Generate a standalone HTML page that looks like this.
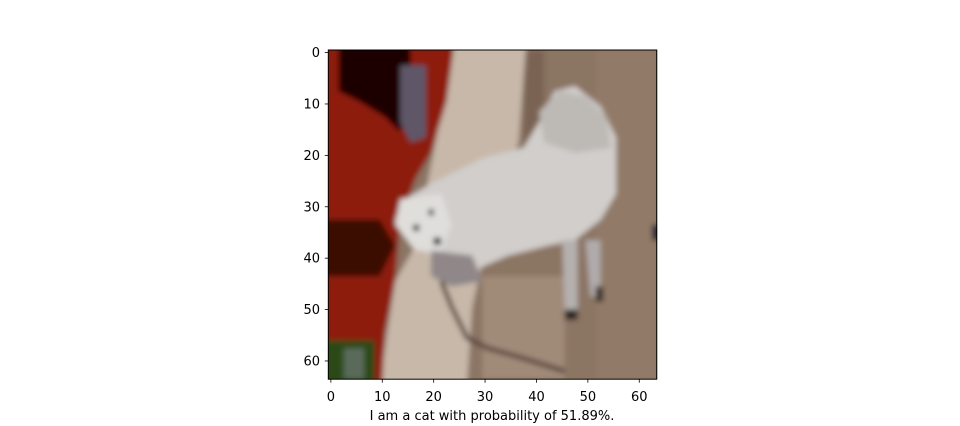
<!DOCTYPE html>
<html><head><meta charset="utf-8"><style>
html,body{margin:0;padding:0;background:#fff;}
svg{display:block;font-family:"DejaVu Sans","Liberation Sans",sans-serif;}
</style></head><body>
<svg width="960" height="426" viewBox="0 0 960 426">
<defs>
<filter id="blur" x="-5%" y="-5%" width="110%" height="110%"><feGaussianBlur stdDeviation="0.5"/></filter>
<clipPath id="clip"><rect x="0" y="0" width="64" height="64"/></clipPath>
</defs>
<g transform="translate(328.3,50) scale(5.14)" clip-path="url(#clip)">
<g filter="url(#blur)">
<rect x="-2" y="-2" width="68" height="68" fill="#8b7563"/>
<rect x="38" y="0" width="4" height="20" fill="#7a6452"/>
<rect x="52" y="0" width="12" height="64" fill="#917a67"/>
<rect x="30" y="44" width="16" height="20" fill="#a08a78"/>
<polygon points="24.5,-1 38.5,-1 37,18 33,28 28,50 27,65 10,65 13,45 17,38" fill="#c7b8a9"/>
<polygon points="-1,-1 24.5,-1 23,10 20,20 17,25 14,33 13,45 11,55 10.5,65 -1,65" fill="#8d1a10"/>
<polygon points="2,-1 16,-1 16,8 14,16 11,13 6,10 2,8" fill="#1a0503"/>
<polygon points="14,3 19,3 19,17 16,18 14,14" fill="#5e5668"/>
<polygon points="-1,33 10,33 13,38 10,44 -1,44" fill="#3a0805"/>
<rect x="-1" y="56.5" width="10" height="9" fill="#2c4a14"/>
<rect x="3" y="58" width="4" height="6" fill="#5a6a5a"/>
<polygon points="15,29 20,26 30,21 38,19 41,14 44,8 48,7 53,11 56,17 56,28 53,33 48,37 43,38 35,40 28,43 22,41 16,38 13,33" fill="#d1cecb"/>
<polygon points="41,12 45,8 50,9 54,13 55,19 48,20 42,18" fill="#bdb9b5"/>
<polygon points="14,29 22,28 24,34 22,39 17,39 13,34" fill="#e0dedb"/>
<polygon points="20,39 28,40 30,45 24,46 20,44" fill="#8f8788"/>
<polygon points="45.5,37 48.5,37 48.5,51 46,51" fill="#b5b0ae"/>
<polygon points="50,37 53,37 53,48 51,48" fill="#b0abaa"/>
<rect x="46" y="50.5" width="2.5" height="2" fill="#2a2420"/>
<rect x="52" y="46" width="1.5" height="3" fill="#3a302a"/>
<rect x="16.5" y="34" width="1.2" height="1.2" fill="#222"/>
<rect x="19.5" y="31" width="1" height="1.2" fill="#222"/>
<rect x="20.5" y="36.5" width="1.4" height="1.4" fill="#111"/>
<rect x="63" y="34" width="1.5" height="3" fill="#1a1a30"/>
<polyline points="22,45 24,50 27,56 31,58 38,60 46,62.5" fill="none" stroke="#5a4440" stroke-width="0.9"/>
</g>
</g>
<rect x="328.3" y="50" width="328.4" height="329.2" fill="none" stroke="#000" stroke-width="1"/>
<g id="ticks" stroke="#000" stroke-width="0.8"></g>
<g id="labels" font-size="13" fill="#000"></g>
<text x="492" y="420" font-size="13" text-anchor="middle" fill="#000">I am a cat with probability of 51.89%.</text>
</svg>
<script>
const tickValues = [0,10,20,30,40,50,60];
const x0 = 328.3, y0 = 50, s = 5.14;
const xs = v => x0 + (v + 0.5) * s;
const ys = v => y0 + (v + 0.5) * s;
const tg = document.getElementById('ticks');
const lg = document.getElementById('labels');
const NS = 'http://www.w3.org/2000/svg';
tickValues.forEach(v => {
  const tx = document.createElementNS(NS, 'line');
  tx.setAttribute('x1', xs(v)); tx.setAttribute('x2', xs(v));
  tx.setAttribute('y1', 379.2); tx.setAttribute('y2', 382.7);
  
  
  tg.appendChild(tx);
  const ty = document.createElementNS(NS, 'line');
  ty.setAttribute('x1', 324.8); ty.setAttribute('x2', 328.3);
  ty.setAttribute('y1', ys(v)); ty.setAttribute('y2', ys(v));
  
  
  tg.appendChild(ty);
  const lx = document.createElementNS(NS, 'text');
  lx.setAttribute('x', xs(v)); lx.setAttribute('y', 401);
  lx.setAttribute('text-anchor', 'middle');
  lx.textContent = v;
  
  
  lg.appendChild(lx);
  const ly = document.createElementNS(NS, 'text');
  ly.setAttribute('x', 320); ly.setAttribute('y', ys(v) + 4.5);
  ly.setAttribute('text-anchor', 'end');
  ly.textContent = v;
  
  
  lg.appendChild(ly);
});
</script>
</body></html>
